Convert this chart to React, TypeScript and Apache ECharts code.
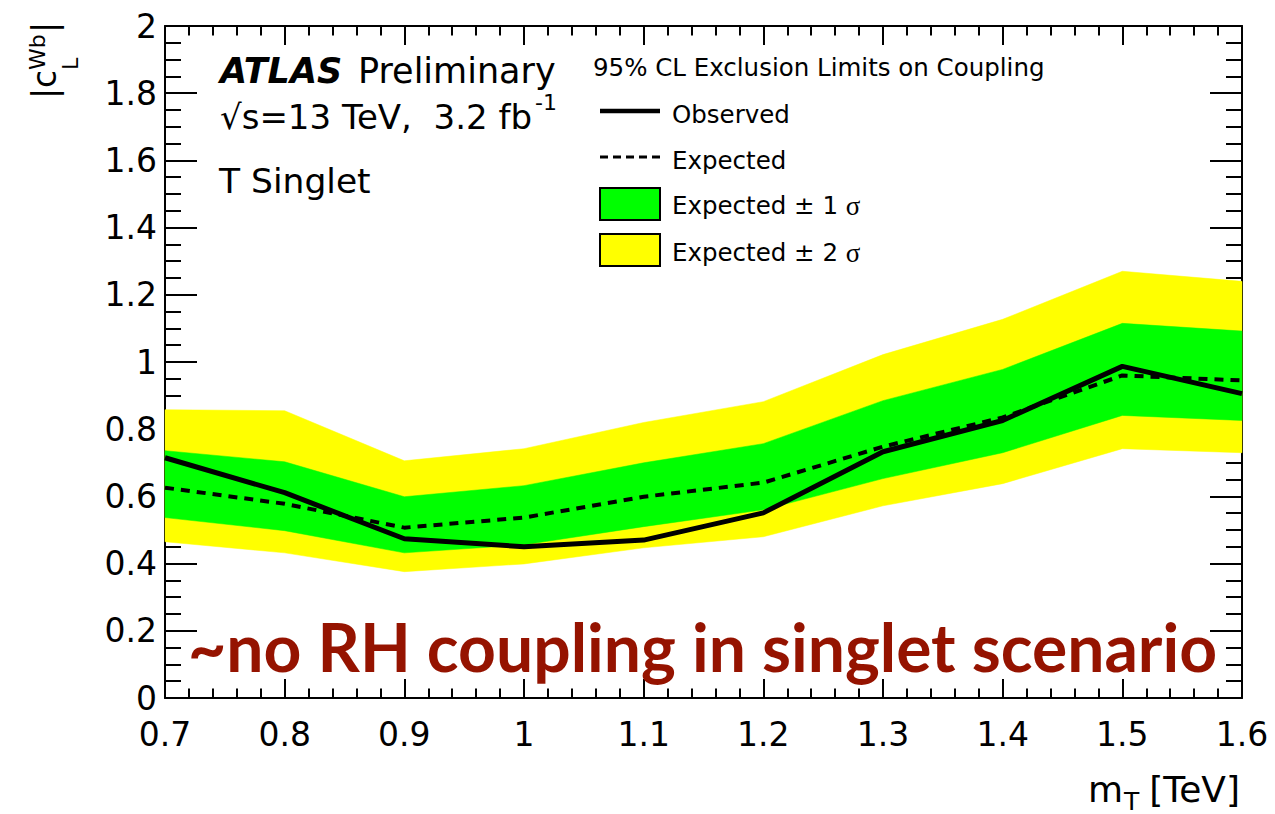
import React, { useEffect, useRef } from "react";
import * as echarts from "echarts";

// ---- data ----
const massTeV = [0.7, 0.8, 0.9, 1.0, 1.1, 1.2, 1.3, 1.4, 1.5, 1.6];
const observed = [0.715, 0.611, 0.474, 0.45, 0.47, 0.551, 0.733, 0.826, 0.987, 0.906];
const expected = [0.626, 0.578, 0.507, 0.537, 0.599, 0.641, 0.748, 0.835, 0.96, 0.945];
const oneSigmaUp = [0.736, 0.703, 0.599, 0.632, 0.7, 0.757, 0.885, 0.978, 1.115, 1.092];
const oneSigmaDown = [0.537, 0.498, 0.432, 0.456, 0.51, 0.56, 0.653, 0.73, 0.841, 0.826];
const twoSigmaUp = [0.858, 0.855, 0.706, 0.742, 0.82, 0.882, 1.022, 1.127, 1.27, 1.24];
const twoSigmaDown = [0.465, 0.432, 0.376, 0.399, 0.447, 0.48, 0.572, 0.638, 0.742, 0.73];

const xTicks = { min: 0.7, max: 1.6, interval: 0.1 };
const yTicks = { min: 0, max: 2, interval: 0.2 };

const FONT = "DejaVu Sans";

function pairs(vals: number[]) {
  return massTeV.map((x, i) => [x, vals[i]]);
}

function txt(x: number, y: number, text: string, fontSize: number, extra: any = {}) {
  return {
    type: "text",
    x,
    y,
    style: {
      text,
      fontSize,
      fontFamily: FONT,
      fill: "#000",
      align: "left",
      verticalAlign: "middle",
      textAlign: "left",
      textVerticalAlign: "middle",
      ...extra,
    },
  };
}

function bandSeries(name: string, lower: number[], upper: number[], color: string) {
  return {
    type: "custom",
    name,
    silent: true,
    data: massTeV.map((x, i) => [x, lower[i], upper[i]]),
    encode: { x: 0, y: [1, 2] },
    renderItem: (params: any, api: any) => {
      if (params.dataIndex !== 0) return null;
      const top = massTeV.map((x, i) => api.coord([x, upper[i]]));
      const bottom = massTeV.map((x, i) => api.coord([x, lower[i]])).reverse();
      return {
        type: "polygon",
        shape: { points: top.concat(bottom) },
        style: { fill: color, stroke: color, lineWidth: 0.5 },
      };
    },
  };
}

export default function App() {
  const ref = useRef<HTMLDivElement>(null);
  useEffect(() => {
    if (!ref.current) return;
    const chart = echarts.init(ref.current, null, { renderer: "svg" });

    const axisLine = { show: true, onZero: false, lineStyle: { color: "#000", width: 2 } };
    const xTick = { show: true, inside: true, length: 19, lineStyle: { color: "#000", width: 2 } };
    const xMinor = { show: true, splitNumber: 5, length: 9.5, lineStyle: { color: "#000", width: 2 } };
    const yTick = { show: true, inside: true, length: 32, lineStyle: { color: "#000", width: 2 } };
    const yMinor = { show: true, splitNumber: 4, length: 16, lineStyle: { color: "#000", width: 2 } };

    const richSigma = {
      a: { fontSize: 24.5, fontFamily: FONT, fill: "#000", color: "#000" },
      s: { fontSize: 27, fontFamily: "Liberation Serif", fill: "#000", color: "#000" },
    };

    const option: any = {
      animation: false,
      backgroundColor: "#fff",
      grid: { left: 165, right: 33, top: 26, bottom: 116, containLabel: false },
      xAxis: [
        {
          type: "value",
          ...xTicks,
          position: "bottom",
          axisLine,
          axisTick: xTick,
          minorTick: xMinor,
          splitLine: { show: false },
          axisLabel: {
            show: true,
            fontSize: 33,
            fontFamily: FONT,
            color: "#000",
            margin: 20,
            showMinLabel: true,
            showMaxLabel: true,
          },
        },
        {
          type: "value",
          ...xTicks,
          position: "top",
          axisLine,
          axisTick: xTick,
          minorTick: xMinor,
          splitLine: { show: false },
          axisLabel: { show: false },
        },
      ],
      yAxis: [
        {
          type: "value",
          ...yTicks,
          position: "left",
          axisLine,
          axisTick: yTick,
          minorTick: yMinor,
          splitLine: { show: false },
          axisLabel: {
            show: true,
            fontSize: 33,
            fontFamily: FONT,
            color: "#000",
            margin: 8,
            showMinLabel: true,
            showMaxLabel: true,
          },
        },
        {
          type: "value",
          ...yTicks,
          position: "right",
          axisLine,
          axisTick: yTick,
          minorTick: yMinor,
          splitLine: { show: false },
          axisLabel: { show: false },
        },
      ],
      series: [
        bandSeries("Expected ± 2 σ", twoSigmaDown, twoSigmaUp, "#ffff00"),
        bandSeries("Expected ± 1 σ", oneSigmaDown, oneSigmaUp, "#00ff00"),
        {
          type: "line",
          name: "Expected",
          data: pairs(expected),
          symbol: "none",
          lineStyle: { color: "#000", width: 4, type: [9, 7] },
        },
        {
          type: "line",
          name: "Observed",
          data: pairs(observed),
          symbol: "none",
          lineStyle: { color: "#000", width: 5 },
        },
      ],
      graphic: [
        // y-axis title, rotated
        {
          type: "group",
          x: 54,
          y: 99,
          rotation: Math.PI / 2,
          children: [
            txt(0, -10, "|c", 33),
            txt(29, -16.6, "Wb", 22),
            txt(29, 16.4, "L", 22),
            txt(66, -10, "|", 33),
          ],
        },
        // x-axis title
        txt(1088, 789, "m", 36),
        txt(1124, 801, "T", 25),
        txt(1240, 789, "[TeV]", 36, { align: "right", textAlign: "right" }),
        // ATLAS label
        txt(220, 71, "ATLAS", 35, { fontWeight: "bold", fontStyle: "italic" }),
        txt(358, 71, "Preliminary", 35),
        txt(220, 117, "√s=13 TeV,  3.2 fb", 34),
        txt(535, 102, "-1", 22),
        txt(219, 180.6, "T Singlet", 34.5),
        // legend
        txt(593, 67.6, "95% CL Exclusion Limits on Coupling", 24.5),
        {
          type: "line",
          shape: { x1: 600, y1: 111, x2: 660, y2: 111 },
          style: { stroke: "#000", lineWidth: 4.5 },
        },
        txt(672, 114.6, "Observed", 24.5),
        {
          type: "line",
          shape: { x1: 600, y1: 157, x2: 660, y2: 157 },
          style: { stroke: "#000", lineWidth: 3, lineDash: [8, 5] },
        },
        txt(672, 160.6, "Expected", 24.5),
        {
          type: "rect",
          shape: { x: 600, y: 188, width: 60, height: 32 },
          style: { fill: "#00ff00", stroke: "#000", lineWidth: 2 },
        },
        {
          type: "text",
          x: 672,
          y: 205.6,
          style: {
            text: "{a|Expected ± 1 }{s|σ}",
            align: "left",
            verticalAlign: "middle",
            textAlign: "left",
            textVerticalAlign: "middle",
            rich: richSigma,
          },
        },
        {
          type: "rect",
          shape: { x: 600, y: 234, width: 60, height: 32 },
          style: { fill: "#ffff00", stroke: "#000", lineWidth: 2 },
        },
        {
          type: "text",
          x: 672,
          y: 252.6,
          style: {
            text: "{a|Expected ± 2 }{s|σ}",
            align: "left",
            verticalAlign: "middle",
            textAlign: "left",
            textVerticalAlign: "middle",
            rich: richSigma,
          },
        },
        // annotation
        {
          type: "text",
          x: 188,
          y: 646,
          z: 100,
          style: {
            text: "~no RH coupling in singlet scenario",
            fontSize: 66,
            fontFamily: "Lato",
            fontWeight: "bold",
            fill: "#951300",
            align: "left",
            verticalAlign: "middle",
            textAlign: "left",
            textVerticalAlign: "middle",
          },
        },
      ],
    };

    chart.setOption(option);
    return () => chart.dispose();
  }, []);

  return (
    <div
      ref={ref}
      style={{ position: "absolute", left: 0, top: 0, width: 1275, height: 814 }}
    />
  );
}
